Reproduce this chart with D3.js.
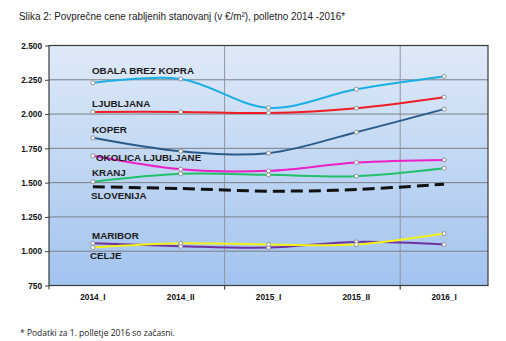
<!DOCTYPE html>
<html><head><meta charset="utf-8">
<script src="https://cdn.jsdelivr.net/npm/d3@7"></script>
<style>
html,body{margin:0;padding:0;background:#fff;}
svg{display:block;}
</style></head>
<body>
<svg id="c" width="506" height="341"></svg>
<script>
const categories = ["2014_I","2014_II","2015_I","2015_II","2016_I"];
const yTicks = [750,1000,1250,1500,1750,2000,2250,2500];
const seriesNames = ["OBALA BREZ KOPRA","LJUBLJANA","KOPER","OKOLICA LJUBLJANE","KRANJ","SLOVENIJA","MARIBOR","CELJE"];
const obala = [2228,2256,2046,2181,2274];
const ljubljana = [2016,2016,2008,2043,2123];
const koper = [1827,1729,1715,1868,2036];
const okolica = [1696,1598,1586,1647,1666];
const kranj = [1506,1564,1557,1547,1605];
const slovenija = [1470,1457,1438,1450,1489];
const maribor = [1058,1037,1027,1068,1049];
const celje = [1027,1058,1049,1049,1129];
const colors = ["#1aaee6","#ee1c24","#2a5a88","#ec1fc8","#22c06a","#111111","#7030a0","#f2f21a"];
const labelCfg = [[92,74],[92,107],[92,133],[96,161],[92,176],[91,199],[92,239],[90,259]];

const W=506,H=341;
const m={l:49,r:488,t:45.5,b:285.5};
const svg=d3.select("#c");
const x=d3.scaleBand().domain(categories).range([m.l,m.r]);
const y=d3.scaleLinear().domain([750,2500]).range([m.b,m.t]);

const defs=svg.append("defs");
const g=defs.append("linearGradient").attr("id","bg").attr("x1",0).attr("y1",0).attr("x2",0).attr("y2",1);
g.append("stop").attr("offset","0%").attr("stop-color","#dfeaf8");
g.append("stop").attr("offset","100%").attr("stop-color","#a2c3ef");

svg.append("text").attr("x",19).attr("y",20)
 .attr("font-family","'Liberation Sans Narrow','Arial Narrow',sans-serif")
 .attr("font-size",11.5).attr("fill","#222")
 .attr("textLength",326).attr("lengthAdjust","spacingAndGlyphs")
 .text("Slika 2: Povprečne cene rabljenih stanovanj (v €/m²), polletno 2014 -2016*");

svg.append("rect").attr("x",m.l).attr("y",m.t).attr("width",m.r-m.l).attr("height",m.b-m.t).attr("fill","url(#bg)");

svg.append("g").selectAll("line").data(yTicks.slice(1,-1)).join("line")
 .attr("x1",m.l).attr("x2",m.r).attr("y1",d=>y(d)).attr("y2",d=>y(d))
 .attr("stroke","#7a7f86").attr("stroke-width",1);
const vIdx=[2,4];
svg.append("g").selectAll("line").data(vIdx).join("line")
 .attr("x1",i=>x(categories[i])).attr("x2",i=>x(categories[i]))
 .attr("y1",m.t).attr("y2",m.b+4).attr("stroke","#8e959e").attr("stroke-width",1);

const ya=d3.axisLeft(y).tickValues(yTicks).tickSize(4)
 .tickFormat(d=>d>=1000?(Math.floor(d/1000)+"."+String(d%1000).padStart(3,"0")):String(d));
const yg=svg.append("g").attr("transform",`translate(${m.l},0)`).call(ya);
yg.select(".domain").remove();
yg.selectAll("line").attr("stroke","#404040");
yg.selectAll("text").attr("font-family","'Liberation Sans',Arial,sans-serif").attr("font-weight","bold").attr("font-size",8.3).attr("fill","#111").attr("x",-7);

const xa=d3.axisBottom(x).tickSize(0).tickPadding(8.5);
const xg=svg.append("g").attr("transform",`translate(0,${m.b})`).call(xa);
xg.select(".domain").remove();
xg.selectAll("text").attr("font-family","'Liberation Sans',Arial,sans-serif").attr("font-weight","bold").attr("font-size",8.3).attr("fill","#111");
svg.append("g").selectAll("line").data([0,2,4]).join("line")
 .attr("x1",i=>x(categories[i])).attr("x2",i=>x(categories[i]))
 .attr("y1",m.b).attr("y2",m.b+4).attr("stroke","#404040");

svg.append("rect").attr("x",m.l).attr("y",m.t).attr("width",m.r-m.l).attr("height",m.b-m.t)
 .attr("fill","none").attr("stroke","#3a3a3a").attr("stroke-width",1.2);

const data=[obala,ljubljana,koper,okolica,kranj,slovenija,maribor,celje];
const cx=c=>x(c)+x.bandwidth()/2;
const line=d3.line().x((d,i)=>cx(categories[i])).y(d=>y(d)).curve(d3.curveCatmullRom.alpha(0.5));
const order=[5,0,1,2,3,4,6,7];
order.forEach(k=>{
  const p=svg.append("path").datum(data[k]).attr("d",line).attr("fill","none")
   .attr("stroke",colors[k]).attr("stroke-width",k===5?3:2);
  if(k===5){p.attr("stroke-dasharray","12,6");}
});
order.forEach(k=>{
  if(k===5) return;
  svg.append("g").selectAll("circle").data(data[k]).join("circle")
   .attr("cx",(d,i)=>cx(categories[i])).attr("cy",d=>y(d)).attr("r",2)
   .attr("fill","#fff").attr("stroke","#8a8a8a").attr("stroke-width",0.9);
});

svg.append("g").selectAll("text").data(seriesNames).join("text")
 .attr("x",(d,i)=>labelCfg[i][0]).attr("y",(d,i)=>labelCfg[i][1])
 .attr("font-family","'Liberation Sans',Arial,sans-serif").attr("font-weight","bold")
 .attr("font-size",9.8).attr("fill","#1a1a1a").text(d=>d);

svg.append("text").attr("x",20).attr("y",336)
 .attr("font-family","'Open Sans','Noto Sans',sans-serif").attr("font-size",8.5).attr("fill","#222")
 .text("* Podatki za 1. polletje 2016 so začasni.");
</script>
</body></html>
